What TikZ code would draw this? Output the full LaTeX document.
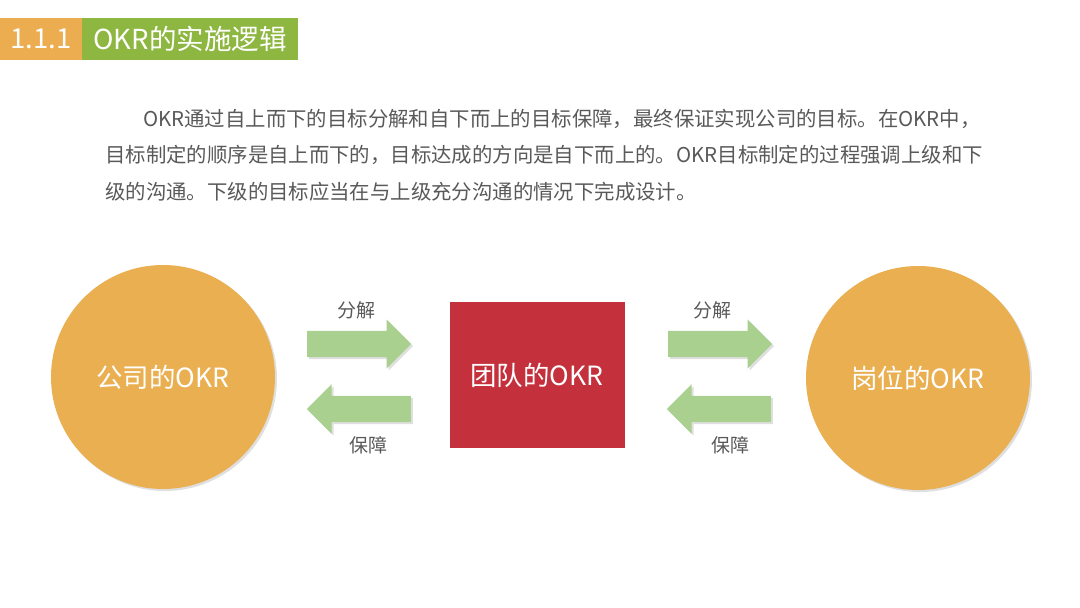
\documentclass[tikz,border=0pt]{standalone}
\usepackage{fontspec}
\newfontfamily\cjkfont{Noto Sans CJK SC}
\usepackage{xcolor}
\usepackage{tikz}
\usetikzlibrary{shapes.arrows,shadows}
\definecolor{hdorange}{RGB}{236,172,80}
\definecolor{hdgreen}{RGB}{141,183,64}
\definecolor{okrorange}{RGB}{233,175,80}
\definecolor{okrred}{RGB}{196,48,60}
\definecolor{arrgreen}{RGB}{169,208,142}
\definecolor{txtgray}{RGB}{89,89,89}

\begin{document}
\begin{tikzpicture}[
  x=1pt, y=-1pt,
  font=\cjkfont,
  hdbox/.style={rectangle, inner sep=0pt, minimum height=42pt, text=white,
    font=\cjkfont\fontsize{27.5}{30}\selectfont},
  okrcircle/.style={circle, fill=okrorange, minimum size=224pt, inner sep=0pt, text=white,
    font=\cjkfont\fontsize{26.5}{30}\selectfont,
    drop shadow={shadow xshift=2pt, shadow yshift=-2pt, opacity=0.25}},
  okrsquare/.style={rectangle, fill=okrred, minimum width=175pt, minimum height=146pt,
    inner sep=0pt, text=white, font=\cjkfont\fontsize{26.5}{30}\selectfont},
  flowarr/.style={single arrow, fill=arrgreen, inner xsep=0pt, inner ysep=13pt,
    minimum height=104pt, single arrow head extend=11.5pt, single arrow tip angle=90,
    anchor=tail,
    drop shadow={shadow xshift=2pt, shadow yshift=-2pt, opacity=0.25}},
  backarr/.style={flowarr, shape border rotate=180},
  arrlabel/.style={text=txtgray, font=\cjkfont\fontsize{19}{22}\selectfont},
]
\useasboundingbox (0,0) rectangle (1080,608);

% header
\node[hdbox, fill=hdorange, minimum width=82pt] (secnum) at (41,39) {1.1.1};
\node[hdbox, fill=hdgreen, minimum width=216pt] (sectitle) at (190,39) {OKR的实施逻辑};

% intro text
\node[anchor=north west, inner sep=0pt, align=left, text=txtgray,
  font=\cjkfont\fontsize{20.4}{36.5}\selectfont] (intro) at (105,109)
  {\hspace*{38pt}OKR通过自上而下的目标分解和自下而上的目标保障，最终保证实现公司的目标。在OKR中，\\
   目标制定的顺序是自上而下的，目标达成的方向是自下而上的。OKR目标制定的过程强调上级和下\\
   级的沟通。下级的目标应当在与上级充分沟通的情况下完成设计。};

% main nodes
\node[okrcircle] (company) at (163,377) {公司的OKR};
\node[okrsquare] (team) at (537,375) {团队的OKR};
\node[okrcircle] (post) at (918,378) {岗位的OKR};

% arrows between levels
\node[flowarr] (split1) at (307,344) {};
\node[backarr] (guard1) at (411,409) {};
\node[flowarr] (split2) at (668,344) {};
\node[backarr] (guard2) at (771,409) {};

\node[arrlabel] (splitlbl1) at (356,310) {分解};
\node[arrlabel] (guardlbl1) at (368,445) {保障};
\node[arrlabel] (splitlbl2) at (712,310) {分解};
\node[arrlabel] (guardlbl2) at (730,445) {保障};
\end{tikzpicture}
\end{document}
